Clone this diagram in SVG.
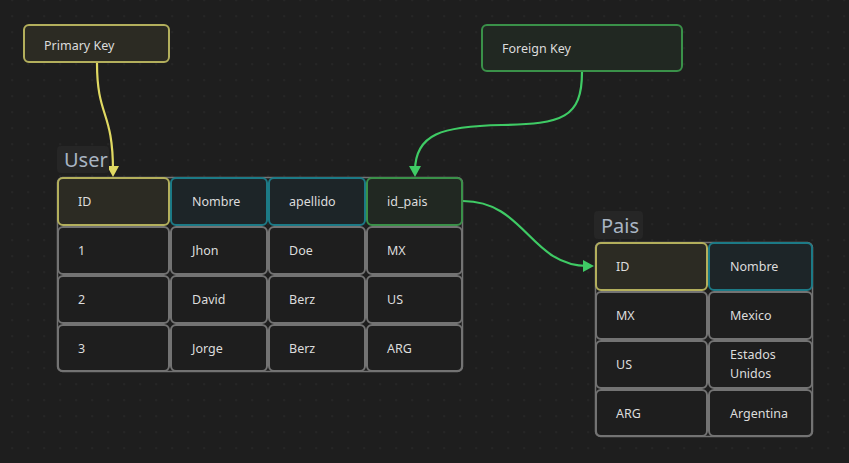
<svg xmlns="http://www.w3.org/2000/svg" width="849" height="463" viewBox="0 0 849 463">
<defs>
<pattern id="dots" patternUnits="userSpaceOnUse" x="11.5" y="-0.5" width="16" height="16">
<rect x="0" y="0" width="1.2" height="1.2" fill="#343434"/>
</pattern>
<marker id="ay" viewBox="0 0 11 12" refX="5" refY="6" markerWidth="11" markerHeight="12" markerUnits="userSpaceOnUse" orient="auto">
<path d="M0,0 L11,6 L0,12 z" fill="#e0d962"/>
</marker>
<marker id="ag" viewBox="0 0 11 12" refX="5" refY="6" markerWidth="11" markerHeight="12" markerUnits="userSpaceOnUse" orient="auto">
<path d="M0,0 L11,6 L0,12 z" fill="#3fcb65"/>
</marker>
</defs>
<style>
text{font-family:"Noto Sans","Open Sans","DejaVu Sans",sans-serif;font-size:12.5px;fill:#dcdcdc}
.c{fill:#1e1e1e;stroke:#737373;stroke-width:2}
.pk{fill:#2c2b23;stroke:#b3af5c;stroke-width:2}
.tl{fill:#1d2528;stroke:#1c7a86;stroke-width:2}
.fk{fill:#212822;stroke:#3a9149;stroke-width:2}
.fr{fill:none;stroke:#737373;stroke-width:1.5}
.lb{fill:#262626}
.title{font-size:20px;fill:#a9b5c3}
.ly{fill:none;stroke:#e0d962;stroke-width:2.2}
.lg{fill:none;stroke:#3fcb65;stroke-width:2.2}
</style>
<rect width="849" height="463" fill="#1e1e1e"/>
<rect width="849" height="463" fill="url(#dots)"/>

<g id="connectors">
<path class="ly" d="M97,63 C97,118 113,110 113,171" marker-end="url(#ay)"/>
<path class="lg" d="M582,72 C582,118 562,124 502,125 C442,126 415,134 415,171" marker-end="url(#ag)"/>
<path class="lg" d="M463,201 C525,201 530,266 588,266" marker-end="url(#ag)"/>
</g>

<g id="primary-key">
<rect class="pk" x="24" y="25" width="145" height="37" rx="5"/>
<text x="44" y="50">Primary Key</text>
</g>

<g id="foreign-key">
<rect class="fk" x="482" y="25" width="200" height="46" rx="5"/>
<text x="502" y="53">Foreign Key</text>
</g>

<g id="user-table">
<rect class="lb" x="57" y="146" width="52" height="27" rx="4"/>
<text class="title" x="64" y="167">User</text>
<rect class="fr" x="57.5" y="177.5" width="405" height="194" rx="5"/>
<rect class="pk" x="58" y="178" width="111" height="47" rx="5"/>
<rect class="tl" x="171" y="178" width="96" height="47" rx="5"/>
<rect class="tl" x="269" y="178" width="96" height="47" rx="5"/>
<rect class="fk" x="367" y="178" width="95" height="47" rx="5"/>
<text x="78" y="206">ID</text>
<text x="192" y="206">Nombre</text>
<text x="289" y="206">apellido</text>
<text x="387" y="206">id_pais</text>

<rect class="c" x="58" y="227" width="111" height="47" rx="5"/>
<rect class="c" x="171" y="227" width="96" height="47" rx="5"/>
<rect class="c" x="269" y="227" width="96" height="47" rx="5"/>
<rect class="c" x="367" y="227" width="95" height="47" rx="5"/>
<text x="78" y="255">1</text>
<text x="192" y="255">Jhon</text>
<text x="289" y="255">Doe</text>
<text x="387" y="255">MX</text>

<rect class="c" x="58" y="276" width="111" height="47" rx="5"/>
<rect class="c" x="171" y="276" width="96" height="47" rx="5"/>
<rect class="c" x="269" y="276" width="96" height="47" rx="5"/>
<rect class="c" x="367" y="276" width="95" height="47" rx="5"/>
<text x="78" y="304">2</text>
<text x="192" y="304">David</text>
<text x="289" y="304">Berz</text>
<text x="387" y="304">US</text>

<rect class="c" x="58" y="325" width="111" height="46" rx="5"/>
<rect class="c" x="171" y="325" width="96" height="46" rx="5"/>
<rect class="c" x="269" y="325" width="96" height="46" rx="5"/>
<rect class="c" x="367" y="325" width="95" height="46" rx="5"/>
<text x="78" y="353">3</text>
<text x="192" y="353">Jorge</text>
<text x="289" y="353">Berz</text>
<text x="387" y="353">ARG</text>
</g>

<g id="pais-table">
<rect class="lb" x="594" y="211" width="49" height="28" rx="4"/>
<text class="title" x="601" y="233">Pais</text>
<rect class="fr" x="595.5" y="242.5" width="217" height="194" rx="5"/>
<rect class="pk" x="596" y="243" width="111" height="47" rx="5"/>
<rect class="tl" x="709" y="243" width="103" height="47" rx="5"/>
<text x="616" y="271">ID</text>
<text x="730" y="271">Nombre</text>

<rect class="c" x="596" y="292" width="111" height="47" rx="5"/>
<rect class="c" x="709" y="292" width="103" height="47" rx="5"/>
<text x="616" y="320">MX</text>
<text x="730" y="320">Mexico</text>

<rect class="c" x="596" y="341" width="111" height="47" rx="5"/>
<rect class="c" x="709" y="341" width="103" height="47" rx="5"/>
<text x="616" y="369">US</text>
<text x="730" y="359">Estados</text>
<text x="730" y="378">Unidos</text>

<rect class="c" x="596" y="390" width="111" height="46" rx="5"/>
<rect class="c" x="709" y="390" width="103" height="46" rx="5"/>
<text x="616" y="418">ARG</text>
<text x="730" y="418">Argentina</text>
</g>
</svg>
